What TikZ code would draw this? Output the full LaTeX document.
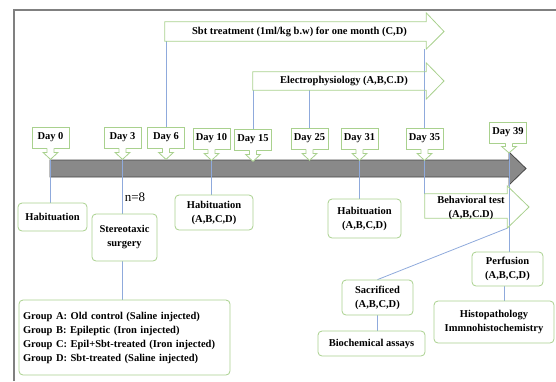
\documentclass[tikz,border=0pt]{standalone}
\usepackage{fontspec}
\setmainfont{Liberation Serif}
\usetikzlibrary{calc}
\definecolor{gbox}{RGB}{169,209,142}
\definecolor{bline}{RGB}{143,170,220}
\definecolor{barfill}{RGB}{137,137,137}
\definecolor{baredge}{RGB}{70,70,70}
\definecolor{framegray}{RGB}{128,128,128}
\pgfdeclarelayer{bg}
\pgfsetlayers{bg,main}
\newcommand\boxfont{\bfseries\fontsize{10.5}{14}\selectfont}
\tikzset{
  daybox/.style={draw=gbox, fill=white, line width=0.8pt, minimum width=37, minimum height=21, inner sep=1, font=\boxfont},
  rbox/.style={draw=gbox, fill=white, line width=0.8pt, rounded corners=4pt, inner sep=2, align=center, font=\boxfont},
  garrow/.style={draw=gbox, line width=0.8pt},
  bl/.style={draw=bline, line width=0.8pt},
  shaft/.style={inner sep=0, draw=none},
}
\newcommand\DayCallout[4]{%
  \node[daybox] (#1) at (#2,#3) {#4};
  \fill[white] ($(#1.south)+(-3.5,-0.4)$) -- ++(0,4.4) -- ++(-4,0) -- ($(#1.south)+(0,11)$) -- ($(#1.south)+(7.5,4)$) -- ++(-4,0) -- ($(#1.south)+(3.5,-0.4)$) -- cycle;
  \draw[garrow] ($(#1.south)+(-3.5,0)$) -- ++(0,4) -- ++(-4,0) -- ($(#1.south)+(0,11)$) coordinate (#1tip) -- ($(#1.south)+(7.5,4)$) -- ++(-4,0) -- ($(#1.south)+(3.5,0)$);
}
\begin{document}
\begin{tikzpicture}[x=1pt,y=-1pt]
\useasboundingbox (0,0) rectangle (556,381);

% frame
\begin{pgfonlayer}{bg}
\draw[framegray, line width=1.6pt] (14,381) -- (14,10) -- (556,10);
% timeline bar
\draw[fill=barfill, draw=baredge, line width=0.8pt] (50,160) -- (509,160) -- (509,152) -- (526,168.5) -- (509,185) -- (509,177) -- (50,177) -- cycle;
\end{pgfonlayer}

% day callouts
\DayCallout{d0}{50.5}{137.5}{Day 0}
\DayCallout{d3}{122.5}{137.5}{Day 3}
\DayCallout{d6}{166}{137.5}{Day 6}
\DayCallout{d10}{211.5}{138.5}{Day 10}
\DayCallout{d15}{253}{139.5}{Day 15}
\DayCallout{d25}{309.5}{138.5}{Day 25}
\DayCallout{d31}{359.5}{138.5}{Day 31}
\DayCallout{d35}{424.5}{138.5}{Day 35}
\node[daybox] (d39) at (508,132.5) {Day 39};
\fill[white] ($(d39.south)+(-2.5,-0.4)$) -- ++(0,3.4) -- ++(-4,0) -- ($(d39.south)+(1,9.5)$) -- ($(d39.south)+(8.5,3)$) -- ++(-4,0) -- ($(d39.south)+(4.5,-0.4)$) -- cycle;
\draw[garrow] ($(d39.south)+(-2.5,0)$) -- ++(0,3) -- ++(-4,0) -- ($(d39.south)+(1,9.5)$) coordinate (d39tip) -- ($(d39.south)+(8.5,3)$) -- ++(-4,0) -- ($(d39.south)+(4.5,0)$);

% arrow-shaped boxes
\node[shaft, minimum width=261, minimum height=19] (sbt) at (295.5,31.5) {};
\draw[garrow] (sbt.north east) -- (sbt.north west) -- (sbt.south west) -- (sbt.south east) -- ++(0,8) coordinate (sbtHB) -- (444,31.5) coordinate (sbttip) -- ($(sbt.north east)+(0,-9)$) -- cycle;
\node[font=\boxfont, inner sep=0] (sbtlabel) at (299.5,31.5) {Sbt treatment (1ml/kg b.w) for one month (C,D)};

\node[shaft, minimum width=173, minimum height=18] (elec) at (339.5,81) {};
\draw[garrow] (elec.north east) -- (elec.north west) -- (elec.south west) -- (elec.south east) -- ++(0,9) -- (444,81) coordinate (electip) -- ($(elec.north east)+(0,-9)$) -- cycle;
\node[font=\boxfont, inner sep=0] (eleclabel) at (344,81) {Electrophysiology (A,B,C.D)};

\node[shaft, minimum width=82, minimum height=24] (beh) at (466,206) {};
\draw[garrow] (beh.north east) -- (beh.north west) -- (beh.south west) -- (beh.south east) -- ++(0,10) coordinate (behHB) -- (529,207) coordinate (behtip) -- ($(beh.north east)+(0,-8)$) -- cycle;
\node[font=\boxfont, inner sep=0, align=center] (behlabel) at (471,207.5) {Behavioral test\\(A,B,C.D)};

% rounded boxes
\node[rbox, minimum width=69, minimum height=28] (hab0) at (52.5,217) {Habituation};
\node[rbox, minimum width=65, minimum height=47] (stereo) at (124.5,237.5) {Stereotaxic\\surgery};
\node[font=\fontsize{13}{15}\selectfont, inner sep=0] (n8) at (135,197) {n=8};
\node[rbox, text width=203, inner sep=4, minimum height=75, align=left] (group) at (124.5,337.5) {Group A: Old control (Saline injected)\\Group B: Epileptic (Iron injected)\\Group C: Epil+Sbt-treated (Iron injected)\\Group D: Sbt-treated (Saline injected)};
\node[rbox, minimum width=78, minimum height=35] (hab10) at (214,212.5) {Habituation\\(A,B,C,D)};
\node[rbox, minimum width=73, minimum height=39] (hab31) at (364.5,218.5) {Habituation\\(A,B,C,D)};
\node[rbox, minimum width=71, minimum height=35] (sac) at (377.5,297.5) {Sacrificed\\(A,B,C,D)};
\node[rbox, minimum width=107, minimum height=25] (bio) at (371.5,343.5) {Biochemical assays};
\node[rbox, minimum width=71, minimum height=34] (perf) at (507.5,269) {Perfusion\\(A,B,C,D)};
\node[rbox, minimum width=120, minimum height=42] (histo) at (494,322) {Histopathology\\Immnohistochemistry};

% connectors
\begin{pgfonlayer}{bg}
\draw[bl] (d0tip) -- (d0tip |- hab0.north);
\draw[bl] (d3tip) -- (d3tip |- stereo.north);
\draw[bl] (stereo.south -| d3tip) -- (d3tip |- group.north);
\draw[bl] (d6.north) -- (d6.north |- sbt.south);
\draw[bl] (d10tip) -- (d10tip |- hab10.north);
\draw[bl] (d15.north) -- (d15.north |- elec.south);
\draw[bl] (d25.north) -- (d25.north |- elec.south);
\draw[bl] (d31tip) -- (d31tip |- hab31.north);
\draw[bl] (d35.north |- sbtHB) -- (d35.north);
\draw[bl] (d35tip) -- (d35tip |- beh.north);
\draw[bl] (d39tip) -- (d39tip |- perf.north);
\draw[bl] (behHB) -- (sac.north);
\draw[bl] (sac.south) -- (sac.south |- bio.north);
\draw[bl] ($(perf.south)+(-3,0)$) -- ($(perf.south |- histo.north)+(-3,0)$);
\end{pgfonlayer}
\end{tikzpicture}
\end{document}
